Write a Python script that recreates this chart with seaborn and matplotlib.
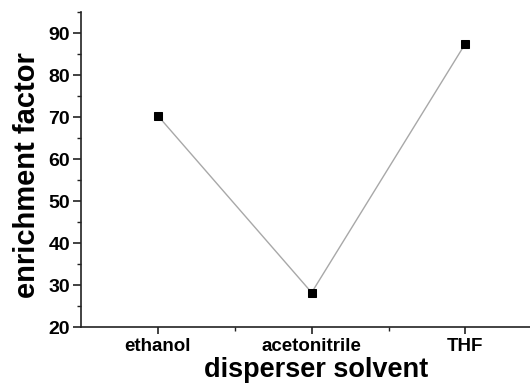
import matplotlib
matplotlib.use("Agg")
import matplotlib.pyplot as plt
import seaborn as sns
import pandas as pd

solvents = ["ethanol", "acetonitrile", "THF"]
enrichment = [70.3, 28.2, 87.5]

sns.set_style("ticks")
plt.rcParams["font.family"] = ["Liberation Sans", "DejaVu Sans"]
plt.rcParams["font.weight"] = "bold"
plt.rcParams["text.color"] = "black"
plt.rcParams["axes.labelcolor"] = "black"
plt.rcParams["xtick.color"] = "#222222"
plt.rcParams["ytick.color"] = "#222222"
plt.rcParams["xtick.labelcolor"] = "black"
plt.rcParams["ytick.labelcolor"] = "black"

df = pd.DataFrame({"solvent": solvents, "ef": enrichment})

fig = plt.figure(figsize=(5.30, 3.88), dpi=100)
ax = fig.add_axes([81 / 530, 1 - 327 / 388, 1 - 81 / 530, (327 - 12) / 388])

sns.lineplot(data=df, x="solvent", y="ef", sort=False, ax=ax,
             color="#a8a8a8", linewidth=1.0, marker="s", markersize=6,
             markerfacecolor="black", markeredgecolor="black")

ax.set_ylim(20, 95)
ax.set_xlim(-0.5, 2.42)
ax.set_yticks([20, 30, 40, 50, 60, 70, 80, 90])
ax.set_yticks([25, 35, 45, 55, 65, 75, 85, 95], minor=True)
ax.set_xticks([0, 1, 2])
ax.set_xticklabels(solvents)
ax.set_xticks([0.5, 1.5], minor=True)

for s in ("top", "right"):
    ax.spines[s].set_visible(False)
for s in ("left", "bottom"):
    ax.spines[s].set_linewidth(1.2)
    ax.spines[s].set_color("#222222")

ax.tick_params(axis="y", which="major", labelsize=14, length=6, width=1.2, pad=2)
ax.tick_params(axis="y", which="minor", length=3, width=1.0)
ax.tick_params(axis="x", which="major", labelsize=13.5, length=5, width=1.2, pad=3)
ax.tick_params(axis="x", which="minor", length=3, width=1.0)
for lab in ax.get_xticklabels() + ax.get_yticklabels():
    lab.set_fontweight("bold")

# axis titles, positioned in axes coordinates
ax.set_xlabel("disperser solvent", fontsize=19.5, fontweight="bold")
ax.set_ylabel("enrichment factor", fontsize=21, fontweight="bold")
ax.xaxis.set_label_coords((316 - 81) / (530 - 81), (327 - 357) / 315)
ax.xaxis.label.set_verticalalignment("top")
ax.yaxis.set_label_coords(-(81 - 13) / (530 - 81), (327 - 175) / 315)
ax.yaxis.label.set_verticalalignment("top")

fig.savefig("out.png", dpi=100)
